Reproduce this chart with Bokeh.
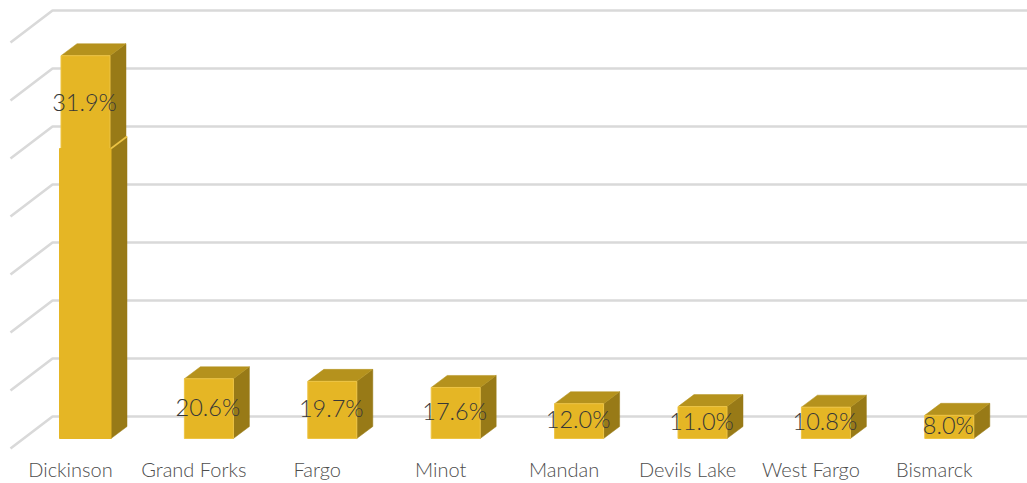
from bokeh.plotting import figure
from bokeh.embed import file_html
from bokeh.resources import INLINE
from bokeh.core.properties import value
from bokeh.models import ColumnDataSource, FixedTicker, Range1d

cities = ["Dickinson", "Grand Forks", "Fargo", "Minot", "Mandan", "Devils Lake", "West Fargo", "Bismarck"]
shares = [31.9, 20.6, 19.7, 17.6, 12.0, 11.0, 10.8, 8.0]
# Height of each column on the chart's hidden 0-140 scale (first column is drawn with a break)
drawn = [132.0, 20.6, 19.7, 17.6, 12.0, 11.0, 10.8, 8.0]
break_at = 100.0
label_at = [115.5, 10.3, 9.85, 8.8, 6.0, 5.5, 5.4, 4.0]
grid_levels = [0, 20, 40, 60, 80, 100, 120, 140]

FRONT, TOP, SIDE, EDGE = "#E5B625", "#B5921D", "#987A17", "#EDC445"
GRID = "#D9D9D9"

W, H, BOTTOM = 1027, 483, 33
PX_X, PX_Y = 123.4, 2.9
dx, dy = 16 / PX_X, 12 / PX_Y          # bar depth
wx, wy = 42 / PX_X, 32 / PX_Y          # wall depth
hw = 24.5 / PX_X

p = figure(width=W, height=H, output_backend="svg", toolbar_location=None,
           x_range=Range1d(-85 / PX_X, (W - 85) / PX_X),
           y_range=Range1d(-(H - BOTTOM - 438) / PX_Y, 438 / PX_Y),
           min_border_left=0, min_border_right=0, min_border_top=0, min_border_bottom=BOTTOM,
           outline_line_color=None, background_fill_color="white", border_fill_color="white",
           margin=0, styles={"position": "absolute", "left": "0px", "top": "0px"})
p.grid.visible = False
p.yaxis.visible = False

ax = p.xaxis[0]
ax.ticker = FixedTicker(ticks=[i - 15 / PX_X for i in range(len(cities))])
ax.major_label_overrides = {i - 15 / PX_X: c for i, c in enumerate(cities)}
ax.axis_line_color = None
ax.major_tick_line_color = None
ax.minor_tick_line_color = None
ax.major_tick_out = 0
ax.major_tick_in = 0
ax.major_label_standoff = 6
ax.major_label_text_font = "Lato Light"
ax.major_label_text_font_size = "20px"
ax.major_label_text_color = "#4D4D4D"

# wall and floor gridlines
xs, ys = [], []
for g in grid_levels:
    back_y = g + 22 / PX_Y
    xs.append([-85 / PX_X + 10 / PX_X, -85 / PX_X + 10 / PX_X + wx, (W - 85) / PX_X])
    ys.append([back_y - wy, back_y, back_y])
p.multi_line(xs, ys, line_color=GRID, line_width=2.6)


def box(cx, half, y0, y1, fc=FRONT):
    l, r = cx - half, cx + half
    p.patch([r, r + dx, r + dx, r], [y0, y0 + dy, y1 + dy, y1], fill_color=SIDE, line_color=SIDE, line_width=0.5)
    p.patch([l, r, r + dx, l + dx], [y1, y1, y1 + dy, y1 + dy], fill_color=TOP, line_color=TOP, line_width=0.5)
    p.patch([l, r, r, l], [y0, y0, y1, y1], fill_color=fc, line_color=EDGE, line_width=1)


for i, h in enumerate(drawn):
    if i == 0:
        box(i, 24.5 / PX_X, break_at - 1, h)
        # lower part: no visible top face, only a light seam on the side
        l, r = i - 26 / PX_X, i + 25.5 / PX_X
        p.patch([r, r + dx, r + dx, r], [0, dy, break_at + dy, break_at], fill_color=SIDE, line_color=SIDE, line_width=0.5)
        p.patch([l, r, r, l], [0, 0, break_at, break_at], fill_color=FRONT, line_color=FRONT, line_width=1)
        p.line([r, r + dx], [break_at, break_at + dy], line_color=EDGE, line_width=1.6)
    else:
        box(i, hw, 0, h)

src = ColumnDataSource(dict(x=list(range(len(cities))), y=label_at,
                            t=[f"{s:.1f}%" for s in shares]))
p.text("x", "y", text="t", source=src, text_align="center", text_baseline="middle",
       x_offset=-1, y_offset=-2,
       text_font=value("Lato Light"), text_font_size="23.5px", text_color="#383838")

open("out.html", "w").write(file_html(p, INLINE))
